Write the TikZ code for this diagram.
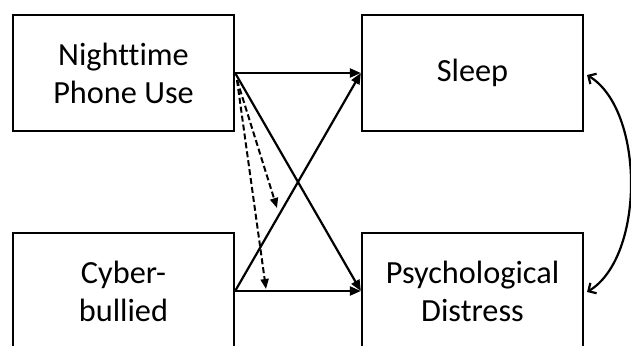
\documentclass[tikz,border=0pt]{standalone}
\usepackage{fontspec}
\setmainfont{Carlito}[Ligatures=NoCommon]
\usetikzlibrary{arrows.meta}
\begin{document}
\begin{tikzpicture}[x=1pt,y=-1pt,
  box/.style={draw=black,line width=2.3pt,minimum width=221pt,minimum height=116pt,inner sep=0pt,align=center,
    font=\fontsize{32.3}{38}\selectfont},
  solidarr/.style={line width=2.2pt,-{Triangle[length=11pt,width=9pt]}},
  dasharr/.style={line width=2pt,dash pattern=on 6pt off 3pt,-{Triangle[length=10pt,width=8pt]}},
  corr/.style={line width=2.2pt,{Straight Barb[length=6pt,width=12pt]}-{Straight Barb[length=6pt,width=12pt]}}]
\useasboundingbox (0,0) rectangle (631,345);
\clip (0,0) rectangle (631,345);
\fill[white] (0,0) rectangle (631,345);
\node[box] (night) at (123.5,73) {Nighttime\\Phone Use};
\node[box] (sleep) at (472.5,73) {Sleep};
\node[box] (cyber) at (123.5,291) {Cyber-\\bullied};
\node[box] (psych) at (472.5,291) {Psychological\\Distress};
\draw[solidarr] (night.east) -- (sleep.west);
\draw[solidarr] (night.east) -- (psych.west);
\draw[solidarr] (cyber.east) -- (sleep.west);
\draw[solidarr] (cyber.east) -- (psych.west);
\coordinate (d0) at (237,80);
\coordinate (m1) at (277,208);
\coordinate (m2) at (266,289);
\draw[dasharr] (d0) -- (m1);
\draw[dasharr] (d0) -- (m2);
\coordinate (c1) at (587,75);
\coordinate (c2) at (587,292);
\draw[corr] (c1) .. controls (645,110) and (645,257) .. (c2);
\end{tikzpicture}
\end{document}
